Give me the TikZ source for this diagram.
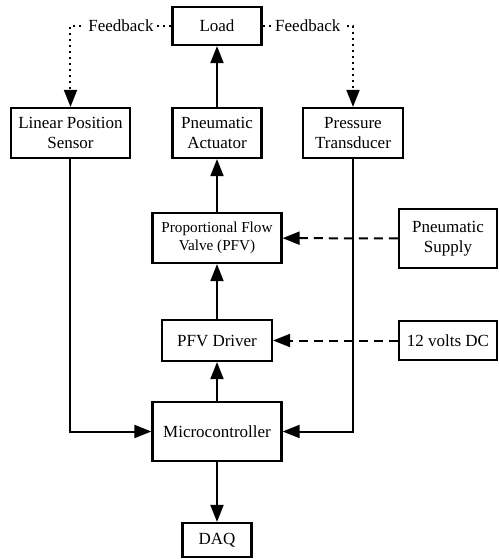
\documentclass[tikz,border=0pt]{standalone}
\usepackage{fontspec}
\setmainfont{Liberation Serif}
\usetikzlibrary{arrows.meta}
\tikzset{
  font={\fontsize{8.5pt}{9.7pt}\selectfont},
  blk/.style={draw=black, line width=1.1pt, align=center, inner sep=0pt},
  sig/.style={black, line width=1pt, -{Triangle[length=8.5pt,width=6.5pt]}},
  fb/.style={sig, dash pattern=on 1.1pt off 1.9pt},
  src/.style={sig, dash pattern=on 4.5pt off 3pt}}

\begin{document}
\begin{tikzpicture}[x=0.5pt,y=0.5pt]
\useasboundingbox (0,0) rectangle (499,-559);
% blocks
\node [blk, minimum width=44.5pt, minimum height=19pt] (load) at (217,-26) {Load};
\node [blk, minimum width=59.5pt, minimum height=25pt] (lps) at (70.5,-133) {Linear Position\\Sensor};
\node [blk, minimum width=44.5pt, minimum height=25pt] (act) at (217,-133) {Pneumatic\\Actuator};
\node [blk, minimum width=50pt, minimum height=25pt] (pt) at (353,-133) {Pressure\\Transducer};
\node [blk, minimum width=64.5pt, minimum height=25pt, font={\fontsize{7.6pt}{9pt}\selectfont}] (pfv) at (217,-238) {Proportional Flow\\Valve (PFV)};
\node [blk, minimum width=49pt, minimum height=29.5pt] (supply) at (448,-238.5) {Pneumatic\\Supply};
\node [blk, minimum width=55pt, minimum height=20.5pt] (drv) at (217,-340.5) {PFV Driver};
\node [blk, minimum width=49pt, minimum height=19.5pt] (dc) at (448,-340.5) {12 volts DC};
\node [blk, minimum width=64.5pt, minimum height=29.5pt] (mc) at (217,-431.5) {Microcontroller};
\node [blk, minimum width=34.5pt, minimum height=17pt] (daq) at (217,-540) {DAQ};
% feedback
\draw [fb] (load.west) -| (lps.north) node [pos=0.25, fill=white, inner sep=1.5pt] {Feedback};
\draw [fb] (load.east) -| (pt.north) node [pos=0.25, fill=white, inner sep=1.5pt] {Feedback};
% signal path
\draw [sig] (act) -- (load);
\draw [sig] (pfv) -- (act);
\draw [sig] (drv) -- (pfv);
\draw [sig] (mc) -- (drv);
\draw [sig] (mc) -- (daq);
\draw [sig] (lps.south) |- (mc.west);
\draw [sig] (pt.south) |- (mc.east);
% supplies
\draw [src] (supply) -- (pfv);
\draw [src] (dc) -- (drv);
\end{tikzpicture}
\end{document}
